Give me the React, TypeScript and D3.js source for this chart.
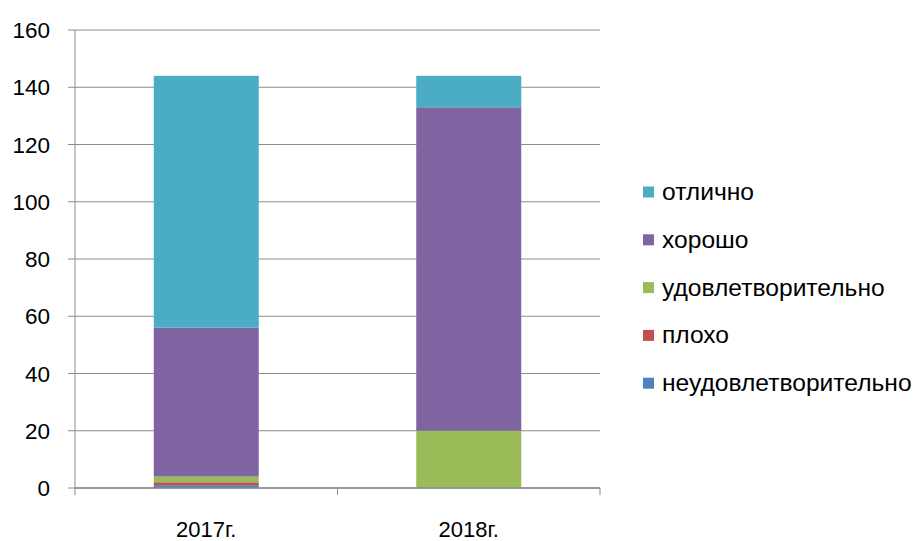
import React from "react";
import * as d3 from "d3";

const categories = ["2017г.", "2018г."];
const seriesNames = ["неудовлетворительно", "плохо", "удовлетворительно", "хорошо", "отлично"];
const seriesColors = ["#4F81BD", "#C0504D", "#9BBB59", "#8064A2", "#4BACC6"];
const neudovl = [1, 0];
const plokho = [1, 0];
const udovl = [2, 20];
const khorosho = [52, 113];
const otlichno = [88, 11];
const yTicks = [0, 20, 40, 60, 80, 100, 120, 140, 160];

const seriesValues = [neudovl, plokho, udovl, khorosho, otlichno];

export default function App() {
  const W = 916, H = 541;
  const left = 75, right = 600, top = 30, bottom = 488;
  const font = "'Liberation Sans', Arial, sans-serif";
  const x = d3.scaleBand<string>().domain(categories).range([left, right]).paddingInner(0.6).paddingOuter(0.3);
  const y = d3.scaleLinear().domain([0, 160]).range([bottom, top]);
  const rows = categories.map((c, i) => {
    const r: any = { cat: c };
    seriesNames.forEach((s, j) => (r[s] = seriesValues[j][i]));
    return r;
  });
  const stacked = d3.stack<any>().keys(seriesNames)(rows);
  const band = (right - left) / categories.length;
  const xEdges = d3.range(categories.length + 1).map((i) => left + i * band);
  const legendOrder = [4, 3, 2, 1, 0];
  return (
    <svg width={W} height={H} style={{ position: "absolute", left: 0, top: 0, background: "#fff" }}>
      {yTicks.map((t) => (
        <g key={t}>
          <line x1={left - 7} x2={right} y1={y(t)} y2={y(t)} stroke="#8c8c8c" strokeWidth={1} />
          <text x={50} y={y(t) + 8} textAnchor="end" fontFamily={font} fontSize={22.5} fill="#000">
            {t}
          </text>
        </g>
      ))}
      {stacked.map((layer, j) => (
        <g key={layer.key} fill={seriesColors[j]}>
          {layer.map((d, i) =>
            d[1] - d[0] > 0 ? (
              <rect
                key={i}
                x={x(categories[i])}
                width={x.bandwidth()}
                y={y(d[1])}
                height={y(d[0]) - y(d[1])}
              />
            ) : null
          )}
        </g>
      ))}
      <line x1={left} x2={left} y1={top} y2={bottom} stroke="#8c8c8c" strokeWidth={1} />
      <line x1={left} x2={right} y1={bottom} y2={bottom} stroke="#8c8c8c" strokeWidth={1.5} />
      {xEdges.map((e, i) => (
        <line key={i} x1={e} x2={e} y1={bottom} y2={bottom + 7} stroke="#8c8c8c" strokeWidth={1} />
      ))}
      {categories.map((c) => (
        <text key={c} x={x(c)! + x.bandwidth() / 2} y={537} textAnchor="middle" fontFamily={font} fontSize={22} fill="#000">
          {c}
        </text>
      ))}
      {legendOrder.map((j, k) => (
        <g key={j} transform={`translate(643, ${192 + k * 47.8})`}>
          <rect x={0} y={-5.5} width={11} height={11} fill={seriesColors[j]} />
          <text x={19} y={8} fontFamily={font} fontSize={24.6} fill="#000">
            {seriesNames[j]}
          </text>
        </g>
      ))}
    </svg>
  );
}
